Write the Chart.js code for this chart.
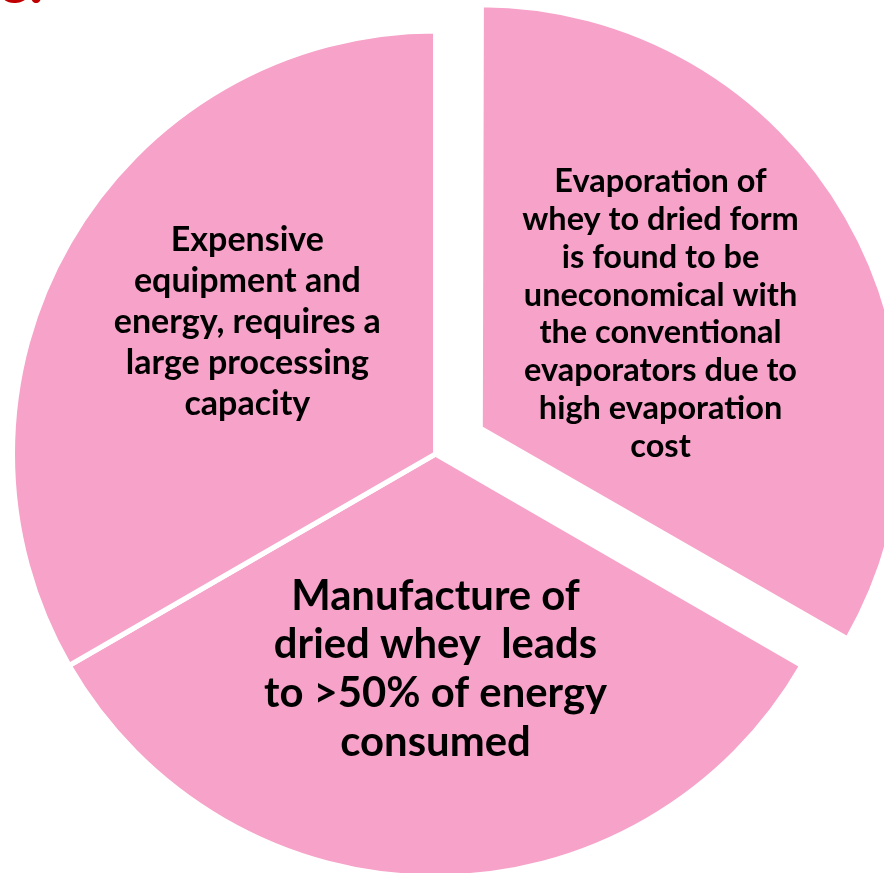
<!DOCTYPE html>
<html>
<head>
<meta charset="utf-8">
<script src="https://cdn.jsdelivr.net/npm/chart.js@4"></script>
<style>
html,body{margin:0;padding:0;background:#fff;overflow:hidden;width:884px;height:873px}
#head{position:absolute;left:-3px;top:-50px;font:bold 60px/60px Lato,sans-serif;color:#C00000;white-space:nowrap}
.wrap{position:absolute;left:0;top:0;width:920px;height:908px}
</style>
</head>
<body>
<div id="head">e.</div>
<div class="wrap"><canvas id="main"></canvas></div>
<div class="wrap"><canvas id="cut"></canvas></div>
<script>
// slices go clockwise from 12 o'clock: right, bottom, left
const categories = [
  ['Evaporation of','whey to dried form','is found to be','uneconomical with','the conventional','evaporators due to','high evaporation','cost'],
  ['Manufacture of','dried whey  leads','to >50% of energy','consumed'],
  ['Expensive','equipment and','energy, requires a','large processing','capacity']
];
const shares = [1, 1, 1];

const pink = '#F6A2C9';

// text inside each slice (no datalabels plugin here)
const sliceText = {
  id:'sliceText',
  afterDatasetsDraw(chart, args, opts){
    const ctx = chart.ctx;
    chart.getDatasetMeta(0).data.forEach((arc,i)=>{
      if(!opts.show[i]) return;
      const p = arc.getProps(['x','y','startAngle','endAngle'], true);
      const mid = (p.startAngle+p.endAngle)/2;
      const o = (arc.options.offset||0)/4;      // same shift the arc element uses
      const a = mid + opts.turn[i]*Math.PI/180;
      const r = opts.dist[i]*422;
      const cx = p.x + Math.cos(mid)*o + Math.cos(a)*r;
      const cy = p.y + Math.sin(mid)*o + Math.sin(a)*r;
      const lines = chart.data.labels[i];
      const f = opts.font[i];
      ctx.save();
      ctx.font = 'bold '+f[0]+'px Lato';
      ctx.fillStyle = '#000';
      ctx.textAlign = 'center';
      ctx.textBaseline = 'middle';
      lines.forEach((t,k)=>ctx.fillText(t, cx, cy+(k-(lines.length-1)/2)*f[1]));
      ctx.restore();
    });
  }
};

const textOpts = {
  dist:[0.5055,0.51,0.545],
  turn:[-2.35,0,5.1],
  font:[[32.5,37.9],[41.8,48.7],[34,41]]
};

function pie(id, colors, widths, offsets, radius, show){
  return new Chart(document.getElementById(id), {
    type:'pie',
    data:{
      labels:categories,
      datasets:[{
        data:shares,
        backgroundColor:colors,
        borderColor:'#fff',
        borderWidth:widths,
        offset:offsets
      }]
    },
    options:{
      responsive:true,
      maintainAspectRatio:false,
      animation:false,
      radius:radius,
      events:[],
      layout:{padding:{right:49}},
      plugins:{
        legend:{display:false},
        tooltip:{enabled:false},
        sliceText:Object.assign({show}, textOpts)
      }
    },
    plugins:[sliceText]
  });
}

// whole pie without the pulled-out slice
pie('main', ['transparent',pink,pink], [0,5,5], [0,0,0], 423, [false,true,true]);
// the pulled-out slice
pie('cut', [pink,'transparent','transparent'], [5,0,0], [207,0,0], 416.5, [true,false,false]);
</script>
</body>
</html>
